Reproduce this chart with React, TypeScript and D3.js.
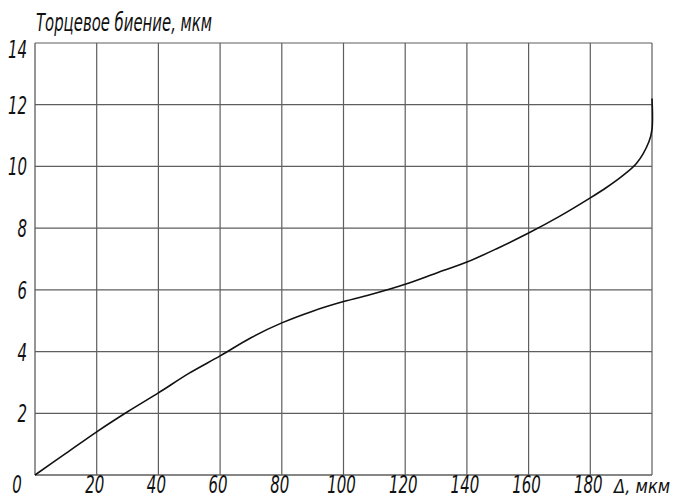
import React from "react";
import * as d3 from "d3";

const xTicks = [20, 40, 60, 80, 100, 120, 140, 160, 180];
const yTicks = [2, 4, 6, 8, 10, 12, 14];
const xGrid = [20, 40, 60, 80, 100, 120, 140, 160, 180, 200];
const curveX = [0, 10, 20, 30, 40, 50, 60, 70, 80, 90, 100, 110, 120, 130, 140, 150, 160, 170, 180, 185, 190, 195, 199, 200, 200];
const curveY = [0, 0.7, 1.4, 2.05, 2.66, 3.3, 3.86, 4.45, 4.93, 5.31, 5.62, 5.88, 6.18, 6.54, 6.9, 7.35, 7.84, 8.38, 8.98, 9.3, 9.66, 10.1, 10.8, 11.2, 12.2];
const title = "Торцевое биение, мкм";
const xTitle = "Δ, мкм";

const FONT = "'DejaVu Sans', sans-serif";

export default function App() {
  const W = 677, H = 500;
  const x = d3.scaleLinear().domain([0, 200]).range([35, 652]);
  const y = d3.scaleLinear().domain([0, 14]).range([475, 43]);
  const pts: [number, number][] = curveX.map((v, i) => [v, curveY[i]]);
  const line = d3.line<[number, number]>()
    .x(d => x(d[0]))
    .y(d => y(d[1]))
    .curve(d3.curveCatmullRom.alpha(0.5));
  const grid = "#5e5e5e";
  const txt = { fontFamily: FONT, fontStyle: "italic" as const, fontWeight: 200, fill: "#111" };
  const SX = 0.6;
  const label = (key: string, s: string | number, tx: number, ty: number, anchor: string, fs: number) => (
    <text key={key} transform={`translate(${tx},${ty}) scale(${SX},1)`} textAnchor={anchor} fontSize={fs} {...txt}>{s}</text>
  );
  return (
    <svg width={W} height={H} style={{ position: "absolute", left: 0, top: 0, background: "#fff" }}>
      <rect x={0} y={0} width={W} height={H} fill="#fff" />
      {xGrid.map(v => (
        <line key={"gx" + v} x1={x(v)} x2={x(v)} y1={y(0)} y2={y(14)} stroke={grid} strokeWidth={1.2} />
      ))}
      {yTicks.map(v => (
        <line key={"gy" + v} x1={x(0)} x2={x(200)} y1={y(v)} y2={y(v)} stroke={grid} strokeWidth={1.2} />
      ))}
      <line x1={x(0)} x2={x(0)} y1={y(0)} y2={y(14)} stroke={grid} strokeWidth={1.3} />
      <line x1={x(0)} x2={x(200)} y1={y(0)} y2={y(0)} stroke={grid} strokeWidth={1.3} />
      <path d={line(pts) || ""} fill="none" stroke="#111" strokeWidth={1.6} />
      {yTicks.map(v => label("ty" + v, v, x(0) - 8, v === 14 ? y(v) + 15 : y(v) + 9, "end", 25))}
      {label("t0", 0, 17, 493, "middle", 25)}
      {xTicks.map(v => label("tx" + v, v, x(v) - 2, 493, "middle", 25))}
      <text transform="translate(614,493) scale(0.82,1)" fontSize={20} {...txt}>{xTitle}</text>
      <text x={36} y={31} fontSize={25} textLength={176} lengthAdjust="spacingAndGlyphs" {...txt}>{title}</text>
    </svg>
  );
}
